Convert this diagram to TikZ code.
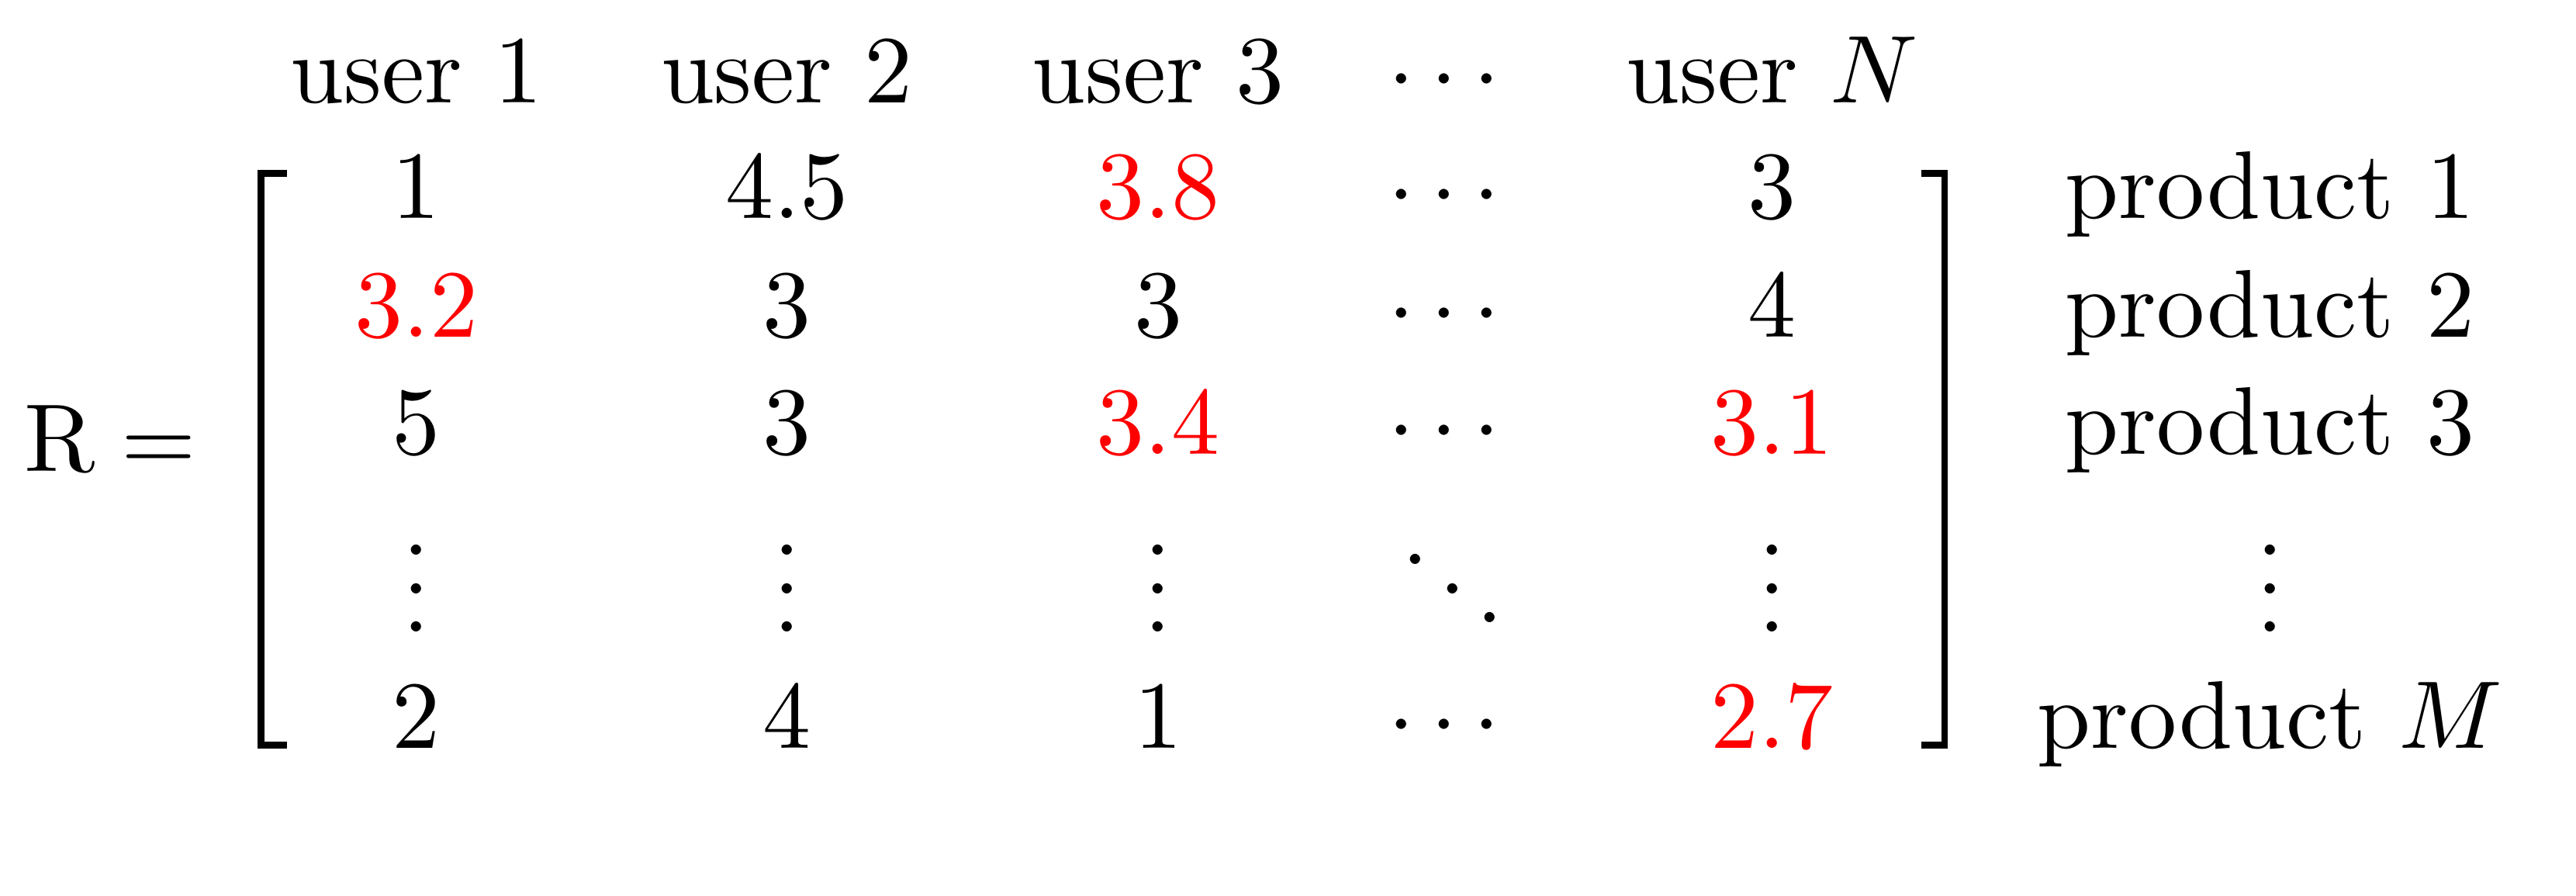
\documentclass[tikz,border=0pt]{standalone}
\usepackage{amsmath,amssymb}
\usepackage{tikz}

\begin{document}
\begin{tikzpicture}[x=1pt,y=1pt
        , entry/.style={anchor=base,inner sep=0pt}
        , miss/.style={entry,text=red}
        , brack/.style={line width=0.7pt,line join=miter}
        ]
        \useasboundingbox (0,0) rectangle (267.8,-93.1);

        \node[entry,anchor=base west] (R) at (2.3,-49) {$\mathrm{R} =$};

        \foreach \x/\t [count=\i] in {43.3/user 1,81.8/user 2,120.4/user 3,151.0/$\cdots$,184.2/user $N$}
            \node[entry] (u\i) at (\x,-10.7) {\t};

        \foreach \x/\v/\s [count=\j] in {43.3/1/entry,81.8/4.5/entry,120.4/3.8/miss,151.0/\cdots/entry,184.2/3/entry}
            \node[\s] (c1\j) at (\x,-22.7) {$\v$};
        \foreach \x/\v/\s [count=\j] in {43.3/3.2/miss,81.8/3/entry,120.4/3/entry,151.0/\cdots/entry,184.2/4/entry}
            \node[\s] (c2\j) at (\x,-35.0) {$\v$};
        \foreach \x/\v/\s [count=\j] in {43.3/5/entry,81.8/3/entry,120.4/3.4/miss,151.0/\cdots/entry,184.2/3.1/miss}
            \node[\s] (c3\j) at (\x,-47.2) {$\v$};
        \foreach \x/\v/\s [count=\j] in {43.3/\vdots/entry,81.8/\vdots/entry,120.4/\vdots/entry,151.0/\ddots/entry,184.2/\vdots/entry}
            \node[\s] (c4\j) at (\x,-65.7) {$\v$};
        \foreach \x/\v/\s [count=\j] in {43.3/2/entry,81.8/4/entry,120.4/1/entry,151.0/\cdots/entry,184.2/2.7/miss}
            \node[\s] (c5\j) at (\x,-77.8) {$\v$};

        \foreach \y/\t [count=\i] in {22.7/product 1,35.0/product 2,47.2/product 3,65.7/$\vdots$,77.8/product $M$}
            \node[entry] (p\i) at (236,-\y) {\t};

        \draw[brack] (29.8,-18.05) -- (27.15,-18.05) -- (27.15,-77.45) -- (29.8,-77.45);
        \draw[brack] (199.7,-18.05) -- (202.15,-18.05) -- (202.15,-77.45) -- (199.7,-77.45);
    \end{tikzpicture}
\end{document}
